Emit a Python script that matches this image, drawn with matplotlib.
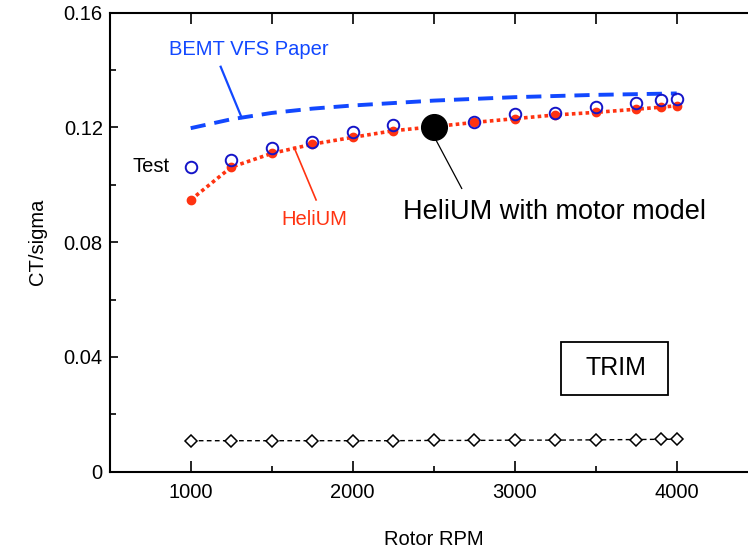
import matplotlib
matplotlib.use("Agg")
import matplotlib.pyplot as plt
from matplotlib.patches import Rectangle
from matplotlib.ticker import MultipleLocator

plt.rcParams['font.family'] = ['Liberation Sans', 'DejaVu Sans']

# Test data (open blue circles)
rpm_test = [1000, 1250, 1500, 1750, 2000, 2250, 2500, 2750, 3000, 3250, 3500, 3750, 3900, 4000]
ct_test = [0.1063, 0.1086, 0.1127, 0.1150, 0.1185, 0.1208, 0.1210, 0.1220, 0.1245, 0.1251,
           0.1272, 0.1284, 0.1295, 0.1298]

# HeliUM prediction (red dots)
rpm_helium = [1000, 1250, 1500, 1750, 2000, 2250, 2500, 2750, 3000, 3250, 3500, 3750, 3900, 4000]
ct_helium = [0.0947, 0.1061, 0.1109, 0.1141, 0.1165, 0.1188, 0.1202, 0.1217, 0.1230, 0.1243,
             0.1252, 0.1263, 0.1270, 0.1275]

# BEMT VFS paper curve
rpm_bemt = [1000, 1250, 1500, 1750, 2000, 2500, 3000, 3500, 4000]
ct_bemt = [0.1197, 0.1228, 0.1250, 0.1265, 0.1276, 0.1293, 0.1305, 0.1313, 0.1318]

# HeliUM with motor model
rpm_motor = [2500]
ct_motor = [0.1202]

# trim (diamonds)
rpm_trim = rpm_test
ct_trim = [0.0108, 0.0108, 0.0108, 0.0108, 0.0108, 0.0108, 0.0109, 0.0109, 0.0110, 0.0110,
           0.0111, 0.0112, 0.0113, 0.0113]

blue = '#1248ff'
dark_blue = '#1414c8'
red = '#ff3311'
fs = 14.5

fig = plt.figure(figsize=(7.48, 5.5), dpi=100)
# axes run a little past the right edge of the picture, like the reference
ax = fig.add_axes([109.7 / 748, (550 - 471.7) / 550, 648 / 748, (471.7 - 12.5) / 550])

ax.plot(rpm_bemt, ct_bemt, color=blue, lw=2.8, dashes=(3.9, 2.3))
ax.plot(rpm_helium, ct_helium, color=red, lw=2.6, ls=(0, (1.0, 0.9)),
        marker='o', ms=6, mec=red, mfc=red)
ax.plot(rpm_test, ct_test, ls='none', marker='o', ms=8.3, mfc='none', mec=dark_blue, mew=1.4)
ax.plot(rpm_trim, ct_trim, color='black', lw=1, dashes=(3.4, 2.4),
        marker='D', ms=6.5, mfc='white', mec='black', mew=1.1)
ax.plot(rpm_motor, ct_motor, ls='none', marker='o', ms=18.5, color='black')

ax.set_xlim(500, 4500)
ax.set_ylim(0, 0.16)
ax.xaxis.set_major_locator(MultipleLocator(1000))
ax.xaxis.set_minor_locator(MultipleLocator(500))
ax.yaxis.set_minor_locator(MultipleLocator(0.02))
ax.set_yticks([0, 0.04, 0.08, 0.12, 0.16])
ax.set_yticklabels(['0', '0.04', '0.08', '0.12', '0.16'])
ax.tick_params(which='both', direction='in', labelsize=fs, width=1.2)
ax.tick_params(axis='x', which='major', length=8, pad=8)
ax.tick_params(axis='y', which='major', length=6, pad=5)
ax.tick_params(which='minor', length=4.5)
ax.spines['right'].set_visible(False)
for s in ['left', 'bottom', 'top']:
    ax.spines[s].set_linewidth(1.5)

# top ticks every 500, all the same length
top = ax.twiny()
top.set_xlim(ax.get_xlim())
top.xaxis.set_major_locator(MultipleLocator(500))
top.tick_params(direction='in', length=8, width=1.2, labeltop=False)
for s in top.spines.values():
    s.set_visible(False)

ax.set_xlabel('Rotor RPM', fontsize=fs, labelpad=20)
ax.set_ylabel('CT/sigma', fontsize=fs, labelpad=12)

ax.text(868, 0.1452, 'BEMT VFS Paper', color=blue, fontsize=fs, ha='left', va='baseline')
ax.plot([1185, 1315], [0.1411, 0.1233], color=blue, lw=1.6)
ax.text(872, 0.1045, 'Test', color='black', fontsize=fs, ha='right', va='baseline')
ax.text(1560, 0.0860, 'HeliUM', color=red, fontsize=fs, ha='left', va='baseline')
ax.plot([1638, 1774], [0.1130, 0.0947], color=red, lw=1.2)
ax.text(2309, 0.0879, 'HeliUM with motor model', color='black', fontsize=19.5,
        ha='left', va='baseline')
ax.plot([2508, 2673], [0.1162, 0.0987], color='black', lw=0.9)
ax.add_patch(Rectangle((3286, 0.0267), 660, 0.0186, fill=False, ec='black', lw=1.3))
ax.text(3627, 0.0360, 'TRIM', color='black', fontsize=18, ha='center', va='center')

fig.savefig('out.png', dpi=100)
